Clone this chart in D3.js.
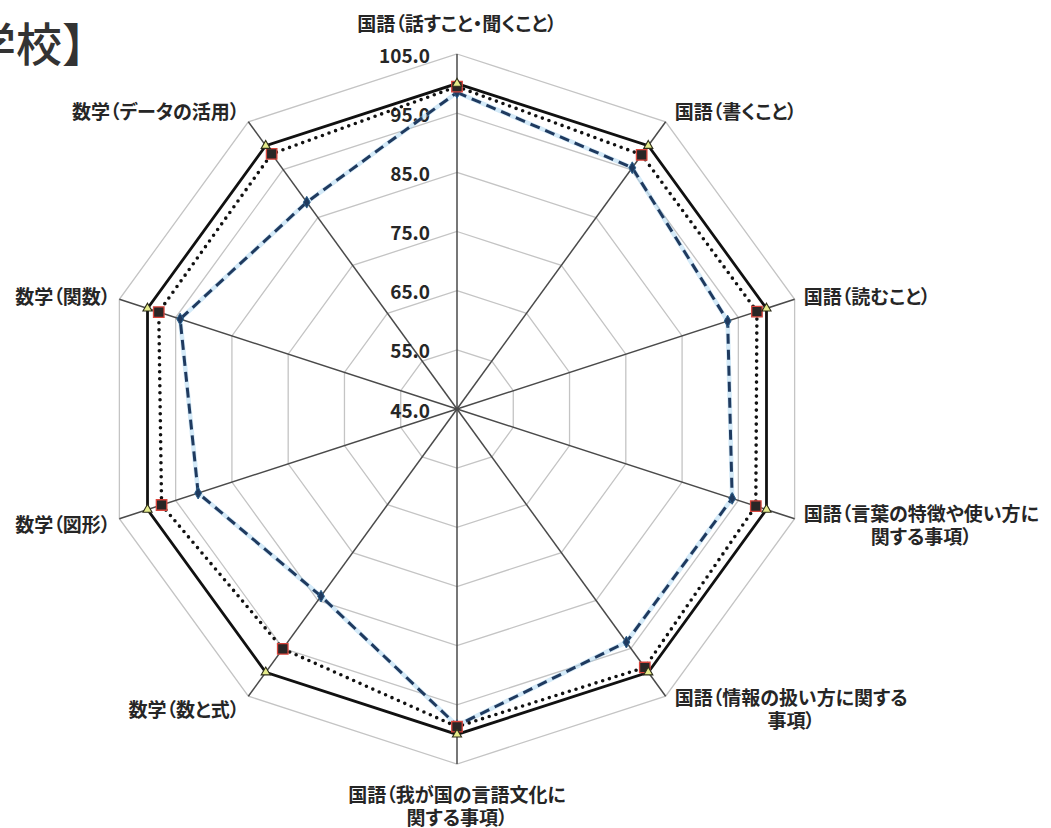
<!DOCTYPE html>
<meta charset="utf-8">
<style>
  body { margin: 0; background: #fff; }
  svg { display: block; }
  text { font-family: "Noto Sans CJK JP", "Noto Sans", sans-serif; fill: #262626; }
  .axis-label { font-size: 19px; font-weight: 700; font-feature-settings: "palt"; }
  .tick-label { font-size: 19px; font-weight: 700; }
</style>
<svg width="1051" height="828"></svg>
<script src="https://d3js.org/d3.v7.min.js"></script>
<script>
// ten subject areas, clockwise from the top
const categories = [
  "国語（話すこと・聞くこと）",
  "国語（書くこと）",
  "国語（読むこと）",
  "国語（言葉の特徴や使い方に\n関する事項）",
  "国語（情報の扱い方に関する\n事項）",
  "国語（我が国の言語文化に\n関する事項）",
  "数学（数と式）",
  "数学（図形）",
  "数学（関数）",
  "数学（データの活用）"
]

// solid line (reference = 100), dotted line, dashed line
const solidValues  = [100, 100, 100, 100, 100, 100, 100, 100, 100, 100]
const dottedValues = [99.5, 98.1, 98.3, 98.1, 99.0, 98.7, 95.1, 97.5, 98.0, 98.3]
const dashedValues = [98.5, 95.4, 93.1, 93.9, 93.7, 98.5, 84.1, 91.0, 94.2, 88.2]

const ticks = [45, 55, 65, 75, 85, 95, 105]

const svg = d3.select("svg")
const cx = 457, cy = 409

const r = d3.scaleLinear().domain([45, 105]).range([0, 355])
const angle = d3.scaleLinear().domain([0, categories.length]).range([0, 2 * Math.PI])

const g = svg.append("g").attr("transform", `translate(${cx},${cy})`)

// title, partly cut off at the left edge like the source
svg.append("text")
  .attr("x", -122)
  .attr("y", 41)
  .attr("dominant-baseline", "central")
  .style("font-size", "46px")
  .style("font-weight", 500)
  .style("fill", "#333")
  .text("【中学校】")

// polygon grid rings
const ringLine = d3.lineRadial()
  .angle((d, i) => angle(i))
  .radius(d => r(d))
  .curve(d3.curveLinearClosed)

g.selectAll("path.ring")
  .data(ticks.slice(1))
  .enter()
  .append("path")
  .attr("class", "ring")
  .attr("d", t => ringLine(categories.map(() => t)))
  .attr("fill", "none")
  .attr("stroke", "#c4c4c4")
  .attr("stroke-width", 1.3)

// spokes
g.selectAll("line.spoke")
  .data(categories)
  .enter()
  .append("line")
  .attr("class", "spoke")
  .attr("x1", 0).attr("y1", 0)
  .attr("x2", (d, i) => r(105) * Math.sin(angle(i)))
  .attr("y2", (d, i) => -r(105) * Math.cos(angle(i)))
  .attr("stroke", "#4a4a4a")
  .attr("stroke-width", 1.5)

// tick labels along the top spoke
g.selectAll("text.tick-label")
  .data(ticks)
  .enter()
  .append("text")
  .attr("class", "tick-label")
  .attr("x", -27)
  .attr("y", t => -r(t))
  .attr("text-anchor", "end")
  .attr("dominant-baseline", "central")
  .text(t => t.toFixed(1))

// series lines
const seriesLine = d3.lineRadial()
  .angle((d, i) => angle(i))
  .radius(d => r(d))
  .curve(d3.curveLinearClosed)

// light halo under the dashed line
g.append("path")
  .attr("d", seriesLine(dashedValues))
  .attr("fill", "none")
  .attr("stroke", "#9fd0ef")
  .attr("stroke-width", 4.5)
  .attr("opacity", 0.45)

g.append("path")
  .attr("d", seriesLine(dashedValues))
  .attr("fill", "none")
  .attr("stroke", "#1f3a5f")
  .attr("stroke-width", 3)
  .attr("stroke-dasharray", "10 6")

g.append("path")
  .attr("d", seriesLine(dottedValues))
  .attr("fill", "none")
  .attr("stroke", "#111")
  .attr("stroke-width", 3.6)
  .attr("stroke-linecap", "round")
  .attr("stroke-dasharray", "0 7")

g.append("path")
  .attr("d", seriesLine(solidValues))
  .attr("fill", "none")
  .attr("stroke", "#111")
  .attr("stroke-width", 2.8)
  .attr("stroke-linejoin", "miter")

// markers
function pos(v, i) {
  return [r(v) * Math.sin(angle(i)), -r(v) * Math.cos(angle(i))]
}

g.selectAll("path.m-dash")
  .data(dashedValues)
  .enter()
  .append("path")
  .attr("class", "m-dash")
  .attr("d", d3.symbol(d3.symbolDiamond, 40))
  .attr("transform", (d, i) => `translate(${pos(d, i)})`)
  .attr("fill", "#1f3a5f")
  .attr("stroke", "#2c5f8a")
  .attr("stroke-width", 1)

g.selectAll("path.m-dot")
  .data(dottedValues)
  .enter()
  .append("path")
  .attr("class", "m-dot")
  .attr("d", d3.symbol(d3.symbolSquare, 110))
  .attr("transform", (d, i) => `translate(${pos(d, i)})`)
  .attr("fill", "#2a2626")
  .attr("stroke", "#d8453c")
  .attr("stroke-width", 1.3)

g.selectAll("path.m-solid")
  .data(solidValues)
  .enter()
  .append("path")
  .attr("class", "m-solid")
  .attr("d", d3.symbol(d3.symbolTriangle, 36))
  .attr("transform", (d, i) => `translate(${pos(d, i)})`)
  .attr("fill", "#e6ec8c")
  .attr("stroke", "#2d2d1a")
  .attr("stroke-width", 1.1)

// category labels around the outer ring
const lineH = 23
categories.forEach((label, i) => {
  const a = angle(i)
  const s = Math.sin(a), c = Math.cos(a)
  const vx = r(105) * s, vy = -r(105) * c
  const lines = label.split("\n")
  const side = Math.abs(s) < 0.1 ? 0 : (s > 0 ? 1 : -1)

  let x, yc
  if (side === 0) {
    x = vx
    yc = c > 0 ? vy - 32 : vy + 29 + (lines.length - 1) * lineH / 2
  } else {
    x = vx + side * 9
    yc = vy - 14 * c
  }

  const t = g.append("text")
    .attr("class", "axis-label")
    .attr("dominant-baseline", "central")
    .attr("text-anchor", "middle")

  const spans = lines.map((ln, k) => t.append("tspan")
    .attr("y", yc + (k - (lines.length - 1) / 2) * lineH)
    .text(ln))

  const widths = spans.map(sp => sp.node().getComputedTextLength())
  const maxW = d3.max(widths)
  const mid = side === 0 ? x : (side > 0 ? x + maxW / 2 : x - maxW / 2)
  spans.forEach(sp => sp.attr("x", mid))
})
</script>
